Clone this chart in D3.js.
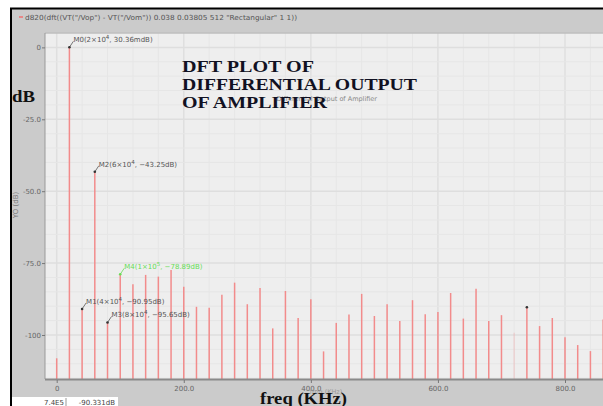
<!DOCTYPE html>
<html>
<head>
<meta charset="utf-8">
<script src="https://cdn.jsdelivr.net/npm/d3@7"></script>
<style>
  body { margin: 0; background: #fff; }
  svg { display: block; }
  .tick text { font-family: "DejaVu Sans", sans-serif; }
</style>
</head>
<body>
<div id="chart"></div>
<script>
// DFT spectrum, bins every 20 kHz
var freqs = [0, 20, 40, 60, 80, 100, 120, 140, 160, 180,
             200, 220, 240, 260, 280, 300, 320, 340, 360, 380,
             400, 420, 440, 460, 480, 500, 520, 540, 560, 580,
             600, 620, 640, 660, 680, 700, 720, 740, 760, 780,
             800, 820, 840, 860];
var dB = [-108.1, 0.03, -90.95, -43.25, -95.65, -78.89, -82.4, -79.1, -79.7, -77.4,
          -83.2, -90.2, -90.5, -86.0, -81.8, -89.3, -83.7, -97.7, -84.7, -94.1,
          -87.6, -105.7, -95.8, -92.9, -85.7, -93.4, -89.3, -95.1, -87.9, -92.8,
          -92.0, -85.4, -94.3, -83.9, -95.1, -93.1, -99.2, -90.33, -96.9, -94.1,
          -100.8, -103.5, -105.6, -94.6];
var faintBins = [720];

var xTicks = [0, 200, 400, 600, 800];
var xTickLabels = ["0", "200.0", "400.0", "600.0", "800.0"];
var yTicks = [0, -25, -50, -75, -100];
var yTickLabels = ["0", "-25.0", "-50.0", "-75.0", "-100"];

// markers: name, mantissa, exponent, freq (kHz), value (dB), value text
var markerNames = ["M0", "M2", "M4", "M1", "M3"];
var markerMant = ["2", "6", "1", "4", "8"];
var markerExp = ["4", "4", "5", "4", "4"];
var markerFreq = [20, 60, 100, 40, 80];
var markerVal = [0.03, -43.25, -78.89, -90.95, -95.65];
var markerText = ["30.36mdB", "-43.25dB", "-78.89dB", "-90.95dB", "-95.65dB"];
var markerColor = ["#555", "#555", "#66dd55", "#555", "#555"];
var extraMarker = {f: 740, v: -90.331, label: "7.4E5", value: "-90.331dB"};

var exprText = 'd820(dft((VT("/Vop") - VT("/Vom")) 0.038 0.03805 512 "Rectangular" 1 1))';
var titleLines = ["DFT PLOT OF", "DIFFERENTIAL OUTPUT", "OF AMPLIFIER"];

var W = 603, H = 406;
var plot = {left: 45, top: 33, right: 603, bottom: 379};

var svg = d3.select('#chart').append('svg').attr('width', W).attr('height', H);

// window chrome
svg.append('rect').attr('x', 11).attr('y', 9).attr('width', W - 11).attr('height', H - 9).attr('fill', '#cbcbcb');
svg.append('line').attr('x1', 10).attr('x2', W).attr('y1', 8.5).attr('y2', 8.5).attr('stroke', '#000').attr('stroke-width', 2);
svg.append('line').attr('x1', 11).attr('x2', 11).attr('y1', 8).attr('y2', H).attr('stroke', '#000').attr('stroke-width', 2);
svg.append('line').attr('x1', 19).attr('x2', 23).attr('y1', 17).attr('y2', 17).attr('stroke', '#f07070').attr('stroke-width', 1.5);
svg.append('text').attr('x', 25).attr('y', 20)
    .attr('textLength', 272).attr('lengthAdjust', 'spacingAndGlyphs')
    .style('font-family', 'DejaVu Sans, sans-serif').style('font-size', '7px').attr('fill', '#555')
    .text(exprText);

var x = d3.scaleLinear().domain([-18.4, 859.8]).range([plot.left, plot.right]);
var y = d3.scaleLinear().domain([-115.3, 5]).range([plot.bottom, plot.top]);

svg.append('rect').attr('x', plot.left).attr('y', plot.top)
    .attr('width', plot.right - plot.left).attr('height', plot.bottom - plot.top)
    .attr('fill', '#eeeeee');

// grid
var g = svg.append('g');
g.selectAll('.vgrid').data(d3.range(0, 861, 40)).enter().append('line')
    .attr('x1', function(d) { return x(d); }).attr('x2', function(d) { return x(d); })
    .attr('y1', plot.top).attr('y2', plot.bottom)
    .attr('stroke', function(d) { return d % 200 === 0 ? '#dfdfdf' : '#e6e6e6'; })
    .attr('stroke-width', function(d) { return d % 200 === 0 ? 1.5 : 1; });
g.selectAll('.hgrid').data(d3.range(-115, 6, 5)).enter().append('line')
    .attr('x1', plot.left).attr('x2', plot.right)
    .attr('y1', function(d) { return y(d); }).attr('y2', function(d) { return y(d); })
    .attr('stroke', function(d) { return d % 25 === 0 ? '#dedede' : '#e6e6e6'; })
    .attr('stroke-width', function(d) { return d % 25 === 0 ? 1.5 : 1; });

// old title underneath the overlay
svg.append('text').attr('x', 377).attr('y', 101).attr('text-anchor', 'end')
    .style('font-family', 'DejaVu Sans, sans-serif').style('font-size', '6.5px').attr('fill', '#888')
    .text('Differential Output of Amplifier');

// spectrum bars
g.selectAll('.bar').data(freqs).enter().append('line')
    .attr('x1', function(d) { return x(d); }).attr('x2', function(d) { return x(d); })
    .attr('y1', plot.bottom)
    .attr('y2', function(d, i) { return y(dB[i]); })
    .attr('stroke', '#f28b8b')
    .attr('stroke-opacity', function(d) { return faintBins.indexOf(d) >= 0 ? 0.25 : 1; })
    .attr('stroke-width', 1.5);

// axes frame
svg.append('line').attr('x1', plot.left).attr('x2', plot.right).attr('y1', plot.top).attr('y2', plot.top)
    .attr('stroke', '#aaa').attr('stroke-width', 1);
svg.append('line').attr('x1', plot.left).attr('x2', plot.left).attr('y1', plot.top).attr('y2', plot.bottom)
    .attr('stroke', '#999').attr('stroke-width', 1);
svg.append('line').attr('x1', plot.left).attr('x2', plot.right).attr('y1', plot.bottom + 0.5).attr('y2', plot.bottom + 0.5)
    .attr('stroke', '#8a8a8a').attr('stroke-width', 2);

var yAxis = d3.axisLeft(y).tickValues(yTicks).tickSize(3).tickPadding(1)
    .tickFormat(function(d, i) { return yTickLabels[i]; });
var ya = svg.append('g').attr('transform', 'translate(' + plot.left + ',0)').call(yAxis);
ya.select('.domain').remove();
ya.selectAll('.tick line').attr('stroke', '#777');
ya.selectAll('.tick text').attr('fill', '#666').style('font-size', '7px');

var xAxis = d3.axisBottom(x).tickValues(xTicks).tickSize(3).tickPadding(3)
    .tickFormat(function(d, i) { return xTickLabels[i]; });
var xa = svg.append('g').attr('transform', 'translate(0,' + (plot.bottom + 1) + ')').call(xAxis);
xa.select('.domain').remove();
xa.selectAll('.tick line').attr('stroke', '#777');
xa.selectAll('.tick text').attr('fill', '#666').style('font-size', '7px');

svg.append('text').attr('transform', 'translate(18,205) rotate(-90)').attr('text-anchor', 'middle')
    .style('font-family', 'DejaVu Sans, sans-serif').style('font-size', '7px').attr('fill', '#777')
    .text('YO (dB)');
svg.append('text').attr('x', 326).attr('y', 394).attr('text-anchor', 'middle')
    .style('font-family', 'DejaVu Sans, sans-serif').style('font-size', '6.5px').attr('fill', '#999')
    .text('freq (KHz)');

// markers
var mk = svg.append('g');
markerNames.forEach(function(name, i) {
    var cx = x(markerFreq[i]), cy = y(markerVal[i]);
    var col = markerColor[i];
    mk.append('line').attr('x1', cx).attr('y1', cy).attr('x2', cx + 4).attr('y2', cy - 6)
        .attr('stroke', col).attr('stroke-width', 0.8);
    mk.append('circle').attr('cx', cx).attr('cy', cy).attr('r', 1.3).attr('fill', i === 2 ? col : '#333');
    var t = mk.append('text').attr('x', cx + 4).attr('y', cy - 5)
        .style('font-family', 'DejaVu Sans, sans-serif').style('font-size', '7px').attr('fill', col);
    t.append('tspan').text(name + '(' + markerMant[i] + '\u00d710');
    t.append('tspan').attr('dy', -3).style('font-size', '5.5px').text(markerExp[i]);
    t.append('tspan').attr('dy', 3).text(', ' + markerText[i].replace('-', '\u2212') + ')');
});
mk.append('circle').attr('cx', x(extraMarker.f)).attr('cy', y(extraMarker.v)).attr('r', 1.3).attr('fill', '#333');

// readout box bottom-left
svg.append('rect').attr('x', 12).attr('y', 397).attr('width', 106).attr('height', 9).attr('fill', '#fff');
svg.append('line').attr('x1', 66).attr('x2', 66).attr('y1', 398).attr('y2', 406).attr('stroke', '#999');
svg.append('text').attr('x', 64).attr('y', 405).attr('text-anchor', 'end')
    .style('font-family', 'DejaVu Sans, sans-serif').style('font-size', '7px').attr('fill', '#444')
    .text(extraMarker.label);
svg.append('text').attr('x', 115).attr('y', 405).attr('text-anchor', 'end')
    .style('font-family', 'DejaVu Sans, sans-serif').style('font-size', '7px').attr('fill', '#444')
    .text(extraMarker.value);

// overlaid bold titles
var serif = '"Liberation Serif", "Times New Roman", serif';
var titleWidths = [132, 235, 145];
titleLines.forEach(function(line, i) {
    svg.append('text').attr('x', 182).attr('y', 72 + i * 18)
        .attr('textLength', titleWidths[i]).attr('lengthAdjust', 'spacingAndGlyphs')
        .style('font-family', serif).style('font-weight', 'bold').style('font-size', '16px')
        .attr('fill', '#111122').text(line);
});
svg.append('text').attr('x', 12).attr('y', 102).attr('textLength', 23).attr('lengthAdjust', 'spacingAndGlyphs')
    .style('font-family', serif).style('font-weight', 'bold').style('font-size', '16px')
    .attr('fill', '#111').text('dB');
svg.append('text').attr('x', 260).attr('y', 404).attr('textLength', 87).attr('lengthAdjust', 'spacingAndGlyphs')
    .style('font-family', serif).style('font-weight', 'bold').style('font-size', '16px')
    .attr('fill', '#111').text('freq (KHz)');
</script>
</body>
</html>
